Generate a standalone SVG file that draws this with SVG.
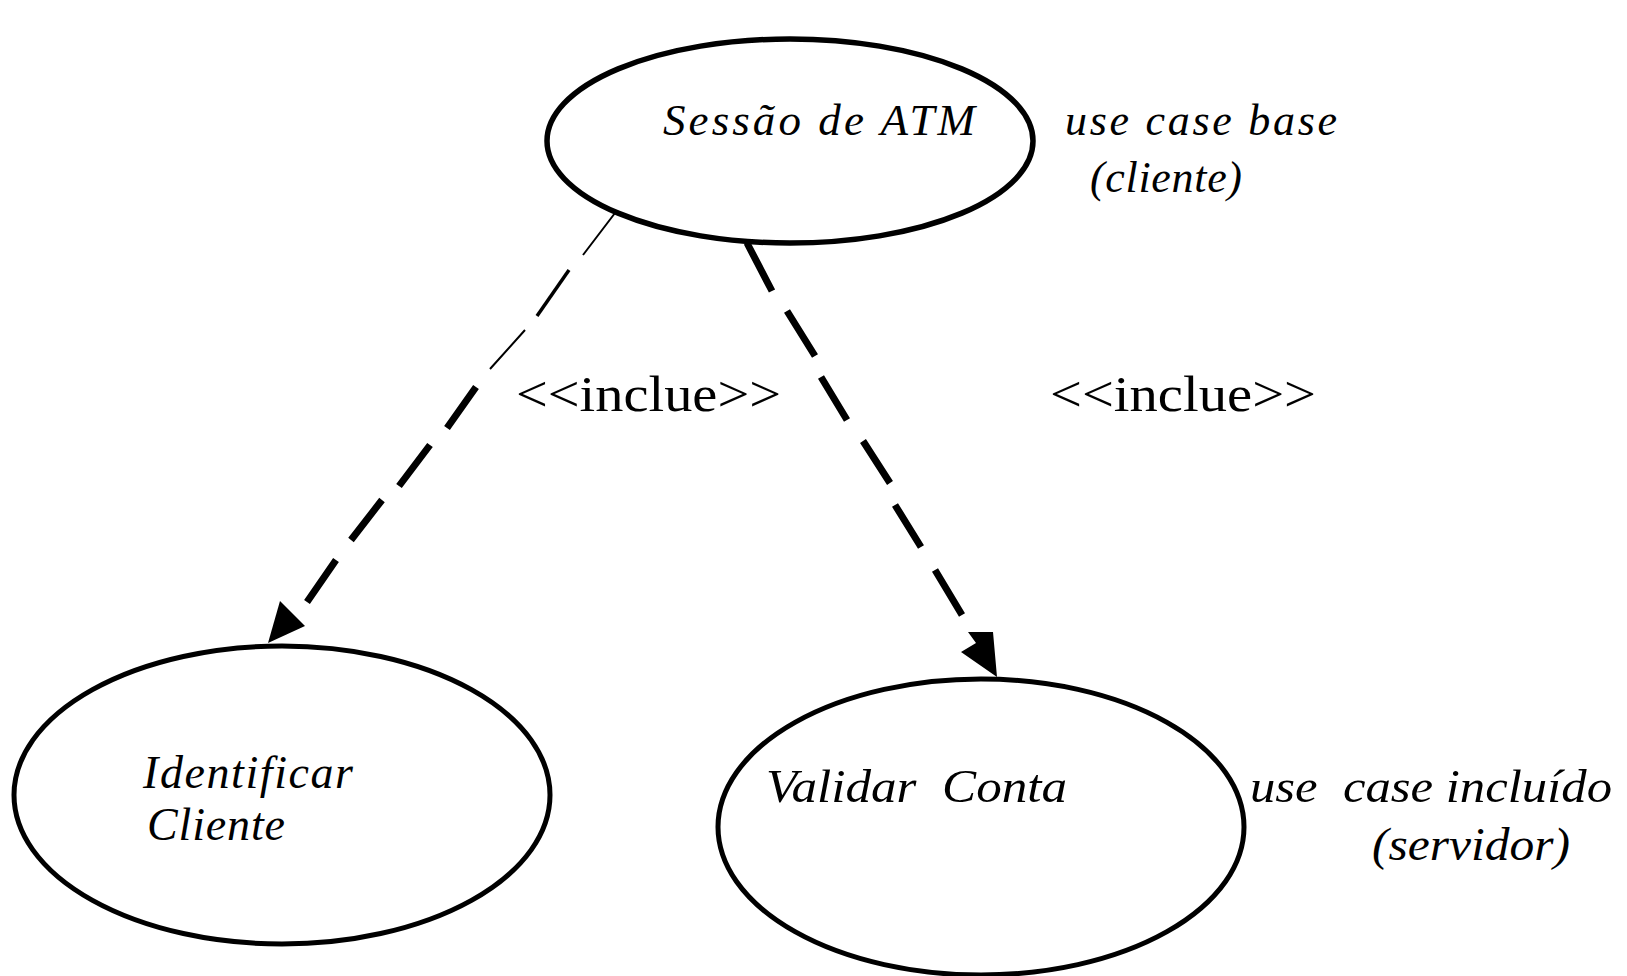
<svg xmlns="http://www.w3.org/2000/svg" width="1627" height="976" viewBox="0 0 1627 976">
<style>
.node{fill:#fff;stroke:#000}
.t{font-family:"Liberation Serif","Times New Roman",serif;font-style:italic;fill:#000}
.lbl{font-family:"Liberation Serif","Times New Roman",serif;fill:#000}
.dash{fill:none;stroke:#000;stroke-linecap:butt}
.head{fill:#000;stroke:none}
</style>
<rect width="1627" height="976" fill="#fff"/>
<g id="connectors">
  <path class="dash" stroke-width="2" d="M615,213 L583,255 M525,330 L490,369"/>
  <path class="dash" stroke-width="3.5" d="M569,270 L537,316"/>
  <path class="dash" stroke-width="7" d="M476,387 L447,428 M430,445 L399,486 M382,500 L351,540 M336,560 L307,602"/>
  <polygon class="head" points="268,643 280,601 305,626"/>
  <path class="dash" stroke-width="7" d="M747,243 L772,291 M787,311 L815,356 M821,377 L847,420 M863,441 L890,483 M895,505 L921,547 M935,570 L962,615"/>
  <polygon class="head" points="997,677 961,652 976,643 968,632 993,632"/>
  <text class="lbl" x="516" y="411" font-size="51" textLength="265" lengthAdjust="spacingAndGlyphs">&lt;&lt;inclue&gt;&gt;</text>
  <text class="lbl" x="1050" y="411" font-size="51" textLength="266" lengthAdjust="spacingAndGlyphs">&lt;&lt;inclue&gt;&gt;</text>
</g>
<g id="sessao">
  <ellipse class="node" cx="790" cy="141" rx="243" ry="102" stroke-width="5.5"/>
  <text class="t" x="663" y="135" font-size="45" textLength="312" lengthAdjust="spacing">Sessão de ATM</text>
</g>
<g id="note-base">
  <text class="t" x="1065" y="135" font-size="44" textLength="272" lengthAdjust="spacing">use case base</text>
  <text class="t" x="1090" y="192" font-size="44" textLength="152" lengthAdjust="spacing">(cliente)</text>
</g>
<g id="identificar">
  <ellipse class="node" cx="282" cy="795" rx="268" ry="149" stroke-width="5"/>
  <text class="t" x="143" y="788" font-size="46" textLength="210" lengthAdjust="spacing">Identificar</text>
  <text class="t" x="147" y="840" font-size="46" textLength="138" lengthAdjust="spacing">Cliente</text>
</g>
<g id="validar">
  <ellipse class="node" cx="981" cy="827" rx="263" ry="148" stroke-width="5"/>
  <text class="t" x="766" y="802" font-size="46" textLength="301" lengthAdjust="spacingAndGlyphs" xml:space="preserve">Validar  Conta</text>
</g>
<g id="note-incluido">
  <text class="t" x="1250" y="802" font-size="46" textLength="362" lengthAdjust="spacingAndGlyphs" xml:space="preserve">use  case incluído</text>
  <text class="t" x="1372" y="860" font-size="46" textLength="198" lengthAdjust="spacingAndGlyphs">(servidor)</text>
</g>
</svg>
